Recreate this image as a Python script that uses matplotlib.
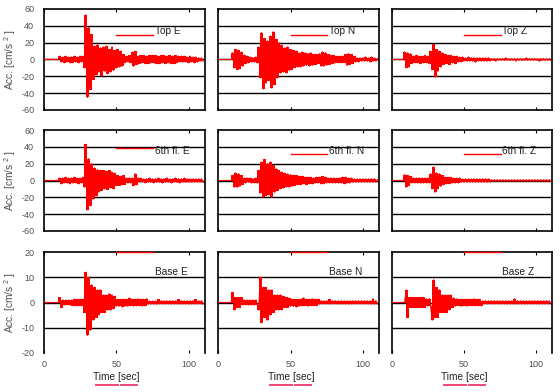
import numpy as np
import matplotlib
matplotlib.use("Agg")
import matplotlib.pyplot as plt

plt.rcParams['font.family'] = ['Liberation Sans', 'DejaVu Sans']
plt.rcParams['mathtext.fontset'] = 'custom'
plt.rcParams['mathtext.rm'] = 'Liberation Sans'
plt.rcParams['axes.unicode_minus'] = False

# ---------------- data (acceleration, cm/s^2, 1 s samples from t = 0) -------------
top_e = [0, 0, 0, 0, 0, 0, 0, 0, 0, 0,
         0, 4, -3, 3, -4, 4, -3, 3, -4, 3,
         -4, 4, -3, 3, -4, 4, -3, 4, -10, 53,
         -45, 38, -36, 30, -24, 16, -18, 17, -15, 14,
         -20, 15, -14, 16, -17, 12, -15, 15, -13, 11,
         -10, 12, -9, 10, -8, 6, -4, 4, -3, 5,
         -4, 9, -8, 10, -6, 4, -5, 5, -4, 5,
         -5, 4, -5, 5, -4, 5, -4, 5, -5, 4,
         -5, 5, -4, 5, -5, 4, -4, 5, -5, 4,
         -5, 5, -4, 4, -3, 4, -3, 4, -3, 3,
         -4, 4, -3, 3, -4, 3, -3, 2, -2, 2,
         -2]
top_n = [0, 0, 0, 0, 0, 0, 0, 0, 0, 0,
         8, -10, 12, -12, 11, -11, 9, -8, 5, -5,
         4, -4, 3, -3, 2, -3, 3, -4, 15, -22,
         32, -35, 25, -28, 22, -25, 28, -34, 33, -30,
         24, -22, 20, -16, 17, -15, 14, -16, 15, -13,
         12, -12, 11, -10, 10, -9, 8, -9, 9, -8,
         8, -7, 7, -8, 8, -7, 6, -6, 6, -5,
         7, -8, 9, -8, 8, -7, 6, -6, 5, -5,
         5, -4, 4, -4, 4, -4, 4, -4, 6, -7,
         7, -6, 6, -5, 4, -3, 2, -3, 2, -2,
         2, -2, 3, -2, 2, -3, 3, -2, 2, -2,
         1]
top_z = [0, 0, 0, 0, 0, 0, 0, 0, 0, 9,
         -10, 8, -9, 7, -5, 4, -4, 5, -4, 4,
         -5, 4, -4, 5, -4, 4, -5, 10, -12, 18,
         -21, 12, -14, 10, -9, 8, -6, 6, -5, 5,
         -6, 5, -4, 4, -5, 4, -3, 3, -3, 3,
         -2, 2, -2, 3, -2, 2, -2, 2, -3, 2,
         -2, 2, -2, 2, -2, 2, -2, 2, -2, 1,
         -1, 1, -2, 1, -1, 1, -1, 1, -1, 2,
         -1, 1, -1, 1, -1, 1, -2, 1, -1, 1,
         -1, 1, -1, 2, -1, 1, -1, 1, -1, 1,
         -1, 1, -2, 1, -1, 1, -1, 1, -1, 1,
         -1]
f6_e = [0, 0, 0, 0, 0, 0, 0, 0, 0, 0,
        0, 3, -4, 3, -3, 4, -3, 3, -4, 3,
        -3, 4, -3, 3, -4, 3, -3, 4, -8, 43,
        -35, 26, -30, 20, -22, 15, -18, 13, -14, 12,
        -12, 12, -10, 11, -11, 12, -9, 10, -10, 9,
        -6, 6, -6, 5, -5, 6, -5, 3, -3, 3,
        -3, 3, -6, 8, -5, 3, -2, 3, -2, 2,
        -3, 2, -2, 3, -2, 2, -3, 2, -2, 3,
        -2, 2, -3, 2, -2, 3, -2, 2, -3, 2,
        -2, 3, -2, 2, -3, 2, -2, 3, -2, 2,
        -2, 2, -2, 2, -2, 2, -2, 2, -2, 2,
        -2]
f6_n = [0, 0, 0, 0, 0, 0, 0, 0, 0, 0,
        6, -8, 9, -8, 8, -7, 6, -5, 3, -3,
        3, -2, 3, -3, 2, -3, 3, -3, 12, -15,
        22, -20, 25, -18, 20, -17, 22, -20, 18, -14,
        14, -12, 12, -10, 10, -9, 9, -8, 8, -8,
        7, -7, 6, -6, 6, -5, 5, -5, 5, -4,
        4, -5, 4, -4, 4, -4, 3, -3, 4, -3,
        4, -4, 5, -4, 4, -3, 3, -3, 3, -3,
        3, -3, 3, -3, 3, -3, 4, -4, 4, -3,
        3, -3, 3, -2, 2, -2, 2, -2, 2, -2,
        2, -2, 2, -2, 2, -2, 2, -2, 2, -2,
        1]
f6_z = [0, 0, 0, 0, 0, 0, 0, 0, 0, 7,
        -8, 6, -6, 5, -3, 3, -3, 3, -3, 3,
        -3, 3, -3, 3, -3, 3, -3, 8, -10, 16,
        -14, 9, -10, 8, -7, 6, -5, 4, -4, 4,
        -4, 4, -3, 3, -3, 3, -3, 3, -2, 2,
        -2, 2, -2, 2, -2, 2, -2, 2, -2, 2,
        -2, 2, -2, 2, -2, 2, -2, 2, -2, 1,
        -1, 1, -1, 1, -1, 1, -1, 1, -1, 1,
        -1, 1, -1, 1, -1, 1, -1, 1, -1, 1,
        -1, 1, -1, 1, -1, 1, -1, 1, -1, 1,
        -1, 1, -1, 1, -1, 1, -1, 1, -1, 1,
        -1]
base_e = [0, 0, 0, 0, 0, 0, 0, 0, 0, 0,
          0, 2, -2, 1, -1, 1, -1, 1, -1, 1,
          -1.3, 1.3, -1.3, 1.3, -1.3, 1.3, -1.3, 1.3, -4, 12,
          -13, 10, -11, 7, -7, 6, -6, 5, -5, 5,
          -4, 3, -4, 3, -3, 3.5, -3, 3, -2.5, 2.5,
          -1.5, 1.3, -1.5, 1.3, -1.8, 1.3, -1.5, 1.3, -1.5, 1.8,
          -1.3, 1.3, -1.5, 1.3, -1.3, 1.5, -1.3, 1.3, -1.5, 1.3,
          -1.3, 1.5, -0.7, 0.6, -0.7, 0.6, -0.7, 0.6, -0.7, 1.2,
          -0.6, 0.7, -0.6, 0.7, -0.6, 0.7, -0.6, 0.7, -0.6, 0.7,
          -0.6, 0.7, -0.6, 1.2, -0.6, 0.7, -0.6, 0.7, -0.6, 0.7,
          -0.6, 0.7, -0.6, 0.7, -0.6, 1.2, -0.6, 0.7, -0.6, 0.7,
          -0.6]
base_n = [0, 0, 0, 0, 0, 0, 0, 0, 0, 0,
          4, -3, 2, -2, 2, -2, 2, -1, 1, -1,
          1, -1, 1, -1, 1, -1, 1, -1, -3, 10,
          -8, 6, -6, 6, -7, 5, -5, 5, -4, 3,
          -3, 3, -3, 3, -3, 2.5, -2, 2, -2, 1.8,
          -1.5, 1.3, -1.5, 1.3, -1.8, 1.3, -1.5, 1.3, -1.3, 1.8,
          -1.3, 1.3, -1.5, 1.3, -1.3, 1.5, -1.3, 1.3, -1.3, 1.3,
          -0.7, 0.7, -0.6, 0.7, -0.6, 0.7, -0.6, 1.2, -0.6, 0.7,
          -0.6, 0.7, -0.6, 0.7, -0.6, 0.7, -0.6, 0.7, -0.6, 0.7,
          -0.6, 0.7, -0.6, 0.7, -0.6, 0.7, -0.6, 0.7, -0.6, 0.7,
          -0.6, 0.7, -0.6, 0.7, -0.6, 0.7, -0.6, 1.5, -0.6, 0.7,
          -0.6]
base_z = [0, 0, 0, 0, 0, 0, 0, 0, 0, 0,
          5, -6, 2, -2, 2, -2, 2, -2, 2, -2,
          2, -2, 2, -2, 1.5, -1.5, 1.5, -1.5, -7, 9,
          -6, 6, -6, 5, -4, 3, -4, 3, -4, 3,
          -3, 3, -2, 1.8, -1.5, 1.5, -1.3, 1.3, -1.5, 1.3,
          -1.3, 1.3, -1.5, 1.3, -1.3, 1.3, -1.3, 1.5, -1.3, 1.3,
          -1.3, 1.3, -1.3, 0.7, -0.6, 0.7, -0.6, 0.7, -0.6, 0.7,
          -0.6, 0.7, -0.6, 0.7, -0.6, 0.7, -0.6, 0.7, -0.6, 0.7,
          -0.6, 0.7, -0.6, 0.7, -0.6, 1.5, -0.6, 0.7, -0.6, 0.7,
          -0.6, 0.7, -0.6, 0.7, -0.6, 0.7, -0.6, 0.7, -0.6, 0.7,
          -0.6, 0.7, -0.6, 0.7, -0.6, 0.7, -0.6, 0.7, -0.6, 0.7,
          -0.6]

series = [[top_e, top_n, top_z],
          [f6_e, f6_n, f6_z],
          [base_e, base_n, base_z]]
names = [["Top E", "Top N", "Top Z"],
         ["6th fl. E", "6th fl. N", "6th fl. Z"],
         ["Base E", "Base N", "Base Z"]]
row_ticks = [[-60, -40, -20, 0, 20, 40, 60],
             [-60, -40, -20, 0, 20, 40, 60],
             [-20, -10, 0, 10, 20]]
x_ticks = [0, 50, 100]
x_max = 111

# ---------------- layout (pixels) ----------------
W, H = 560, 392
fig = plt.figure(figsize=(W / 100, H / 100), dpi=100)
col_left = [44, 218.3, 391.7]
col_w = 160.5
row_top = [9, 130, 252]
row_h = 101

leg_line_y = [[0.743, 0.743, 0.743], [0.82, 0.76, 0.76], [1.0, 1.0, 1.0]]
leg_text_y = [0.785, 0.795, 0.80]

RED = '#ff0000'
tick_color = '#505050'
for r in range(3):
    for c in range(3):
        left = col_left[c] / W
        bottom = 1 - (row_top[r] + row_h) / H
        ax = fig.add_axes([left, bottom, col_w / W, row_h / H])
        vals = np.asarray(series[r][c], dtype=float)
        t = np.arange(len(vals))
        # span swept by the trace within each 1 s step -> solid record look
        lo = np.minimum(vals[:-1], vals[1:])
        hi = np.maximum(vals[:-1], vals[1:])
        ax.fill_between(t[:-1], lo, hi, step='post', color=RED, lw=0, zorder=3)
        ax.plot(t, vals, color=RED, lw=0.9, zorder=3)
        yt = row_ticks[r]
        ax.set_xlim(0, x_max)
        ax.set_ylim(yt[0], yt[-1])
        ax.set_yticks(yt)
        ax.set_xticks(x_ticks)
        for v in yt[1:-1]:
            ax.axhline(v, color='black', lw=1.0, zorder=1)
        for s in ax.spines.values():
            s.set_linewidth(1.2)
            s.set_color('black')
        if r == 2:
            ax.spines['bottom'].set_visible(False)
        ax.tick_params(axis='y', length=0, pad=7, labelsize=6.5, labelcolor=tick_color,
                       labelleft=(c == 0))
        ax.tick_params(axis='x', direction='in', top=True, bottom=True, length=2.5,
                       width=0.8, pad=5, labelsize=6.5, labelcolor=tick_color,
                       labelbottom=(r == 2))
        ax.plot([0.45, 0.68], [leg_line_y[r][c], leg_line_y[r][c]], transform=ax.transAxes,
                color=RED, lw=1.0, clip_on=False, zorder=4)
        ax.text(0.69, leg_text_y[r], names[r][c], transform=ax.transAxes,
                fontsize=7.3, color='#202020', va='center', ha='left')
        if c == 0:
            fig.text(10 / W, bottom + row_h / H / 2, r'Acc. [cm/s $^{2}$ ]', rotation=90,
                     ha='center', va='center', fontsize=7.3, color=tick_color)
        if r == 2:
            ax.text(0.452, -0.238, 'Time [sec]', transform=ax.transAxes, ha='center',
                    va='center', fontsize=7.3, color='#202020')
            for x0, x1 in [(0.324, 0.461), (0.48, 0.58)]:
                ax.plot([x0, x1], [-0.317, -0.317], transform=ax.transAxes,
                        color='#f04878', lw=1.4, clip_on=False)

fig.savefig('out.png', dpi=100)
